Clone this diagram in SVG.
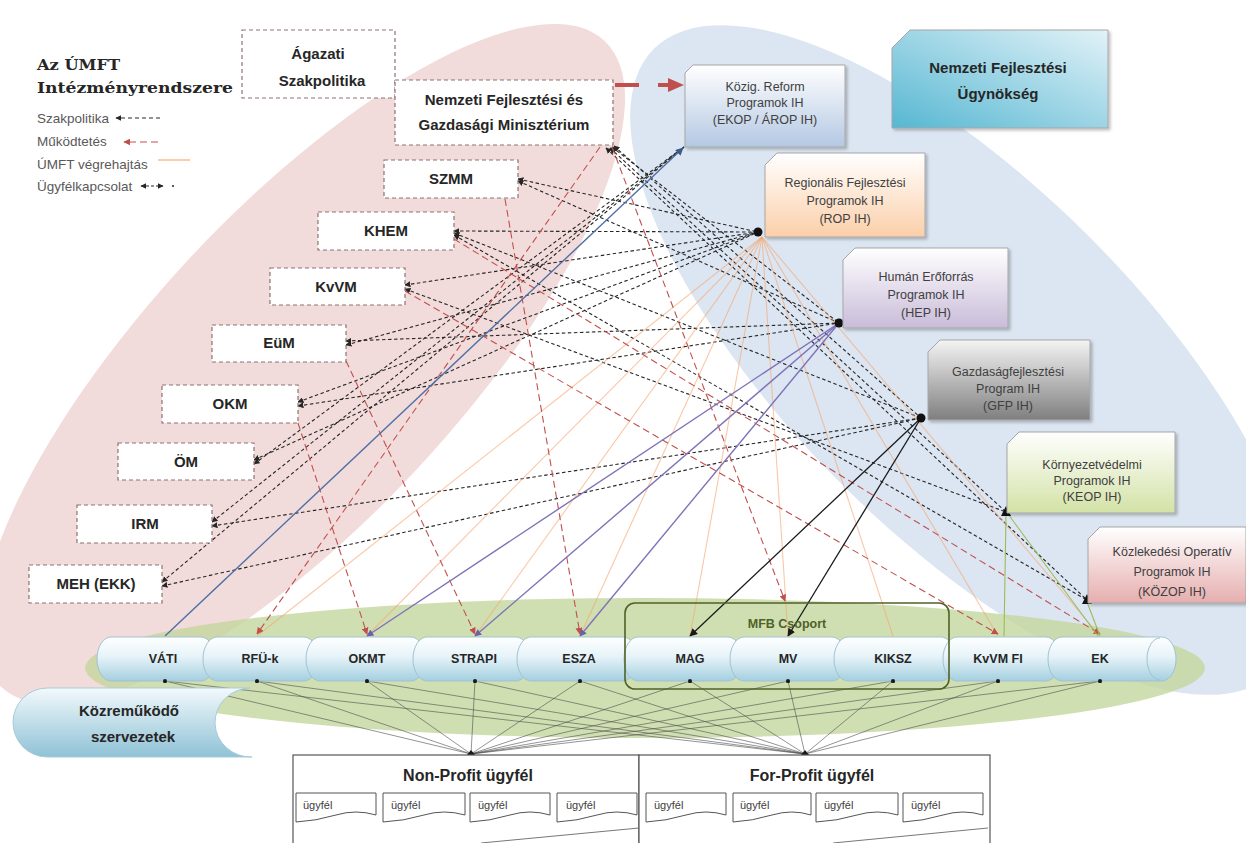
<svg xmlns="http://www.w3.org/2000/svg" width="1246" height="843" viewBox="0 0 1246 843">
<defs>
<style>
.mbox{fill:#fff;stroke:#8e7373;stroke-width:1.2;stroke-dasharray:4 3}
.mt{font-family:"Liberation Sans",Arial,sans-serif;font-weight:bold;font-size:15px;fill:#262626;text-anchor:middle}
.iht{font-family:"Liberation Sans",Arial,sans-serif;font-size:12.5px;fill:#404040;text-anchor:middle}
.ih{stroke:#a6a6a6;stroke-width:1;filter:url(#sh)}
.cap{fill:url(#gCap);stroke:#9fc3d3;stroke-width:1}
.ct{font-family:"Liberation Sans",Arial,sans-serif;font-weight:bold;font-size:12.5px;fill:#262626;text-anchor:middle}
.lg{font-family:"Liberation Sans",Arial,sans-serif;font-size:13.5px;fill:#595959}
.sz{stroke:#262626;stroke-width:1.1;stroke-dasharray:3.5 2.5;fill:none;marker-start:url(#aBk)}
.mk{stroke:#c0504d;stroke-width:1.1;stroke-dasharray:7 4;fill:none;marker-end:url(#aRd)}
.vh{stroke:#f7a46a;stroke-width:1.1;fill:none;opacity:.6}
.hp{stroke:#7f72b8;stroke-width:1.4;fill:none;marker-end:url(#aPu)}
.uk{stroke:#4d4d4d;stroke-width:.8;fill:none;opacity:.75;marker-start:url(#dot)}
.ol{stroke:#9bbb59;stroke-width:1.1;fill:none}
.doc{fill:#fff;stroke:#555;stroke-width:1}
.dt{font-family:"Liberation Sans",Arial,sans-serif;font-size:11px;fill:#404040}
.bt{font-family:"Liberation Sans",Arial,sans-serif;font-weight:bold;font-size:16px;fill:#262626;text-anchor:middle}
</style>
<filter id="sh" x="-10%" y="-10%" width="130%" height="130%"><feDropShadow dx="2" dy="2" stdDeviation="1.5" flood-color="#000" flood-opacity="0.25"/></filter>
<linearGradient id="gCap" x1="0" y1="0" x2="0" y2="1"><stop offset="0" stop-color="#ffffff"/><stop offset="0.45" stop-color="#e6f3f8"/><stop offset="1" stop-color="#a4cfe0"/></linearGradient>
<linearGradient id="gKoz" x1="0" y1="0" x2="0" y2="1"><stop offset="0" stop-color="#f2f9fc"/><stop offset="1" stop-color="#8fc2d6"/></linearGradient>
<linearGradient id="gNfu" x1="0" y1="1" x2="1" y2="0"><stop offset="0" stop-color="#56b7d2"/><stop offset="1" stop-color="#e2f2f8"/></linearGradient>
<linearGradient id="gKig" x1="0" y1="0" x2="0" y2="1"><stop offset="0" stop-color="#ffffff"/><stop offset="1" stop-color="#b4c8e3"/></linearGradient>
<linearGradient id="gRop" x1="0" y1="0" x2="0" y2="1"><stop offset="0" stop-color="#ffffff"/><stop offset="1" stop-color="#fbcfa9"/></linearGradient>
<linearGradient id="gHep" x1="0" y1="0" x2="0" y2="1"><stop offset="0" stop-color="#ffffff"/><stop offset="1" stop-color="#c9bcd9"/></linearGradient>
<linearGradient id="gGfp" x1="0" y1="0" x2="0" y2="1"><stop offset="0" stop-color="#f4f4f4"/><stop offset="1" stop-color="#7f7f7f"/></linearGradient>
<linearGradient id="gKeop" x1="0" y1="0" x2="0" y2="1"><stop offset="0" stop-color="#ffffff"/><stop offset="1" stop-color="#d3e2a6"/></linearGradient>
<linearGradient id="gKozop" x1="0" y1="0" x2="0" y2="1"><stop offset="0" stop-color="#ffffff"/><stop offset="1" stop-color="#e6aeae"/></linearGradient>
<marker id="aBk" viewBox="0 0 10 10" refX="9" refY="5" markerWidth="6" markerHeight="6" markerUnits="userSpaceOnUse" orient="auto-start-reverse"><path d="M0,0 L10,5 L0,10 Z" fill="#262626"/></marker>
<marker id="aRd" viewBox="0 0 10 10" refX="9" refY="5" markerWidth="7" markerHeight="7" markerUnits="userSpaceOnUse" orient="auto-start-reverse"><path d="M0,0 L10,5 L0,10 Z" fill="#c0504d"/></marker>
<marker id="aPu" viewBox="0 0 10 10" refX="9" refY="5" markerWidth="7" markerHeight="7" markerUnits="userSpaceOnUse" orient="auto"><path d="M0,0 L10,5 L0,10 Z" fill="#6a5fa8"/></marker>
<marker id="aBl" viewBox="0 0 10 10" refX="9" refY="5" markerWidth="8" markerHeight="8" markerUnits="userSpaceOnUse" orient="auto"><path d="M0,0 L10,5 L0,10 Z" fill="#3c5a8c"/></marker>
<marker id="aK" viewBox="0 0 10 10" refX="9" refY="5" markerWidth="8" markerHeight="8" markerUnits="userSpaceOnUse" orient="auto-start-reverse"><path d="M0,0 L10,5 L0,10 Z" fill="#1a1a1a"/></marker>
<marker id="dot" viewBox="0 0 10 10" refX="5" refY="5" markerWidth="4" markerHeight="4" markerUnits="userSpaceOnUse"><circle cx="5" cy="5" r="5" fill="#1a1a1a"/></marker>
</defs>

<g id="background">
<rect width="1246" height="843" fill="#ffffff"/>
<ellipse cx="303" cy="364" rx="442" ry="155" transform="rotate(-47 303 364)" fill="#f2dcdb"/>
<ellipse cx="965" cy="360" rx="440" ry="175" transform="rotate(45 965 360)" fill="#dce6f2"/>
<ellipse cx="645" cy="668" rx="560" ry="70" fill="#c3d69b" opacity="0.78"/>
</g>

<g id="legend">
<text x="37" y="70" font-family="DejaVu Serif,'Liberation Serif',serif" font-weight="bold" font-size="15" fill="#262626" textLength="83" lengthAdjust="spacingAndGlyphs">Az ÚMFT</text>
<text x="37" y="93" font-family="DejaVu Serif,'Liberation Serif',serif" font-weight="bold" font-size="15" fill="#262626" textLength="196" lengthAdjust="spacingAndGlyphs">Intézményrendszere</text>
<text class="lg" x="37" y="123">Szakpolitika</text>
<line x1="160" y1="118" x2="116" y2="118" stroke="#262626" stroke-width="1.1" stroke-dasharray="4 3" marker-end="url(#aBk)"/>
<text class="lg" x="37" y="146">Működtetés</text>
<line x1="158" y1="142" x2="124" y2="142" stroke="#c0504d" stroke-width="1.1" stroke-dasharray="7 4" marker-end="url(#aRd)"/>
<text class="lg" x="37" y="169">ÚMFT végrehajtás</text>
<line x1="158" y1="160" x2="190" y2="160" stroke="#f7a46a" stroke-width="1.1"/>
<text class="lg" x="37" y="191">Ügyfélkapcsolat</text>
<line x1="141" y1="186" x2="163" y2="186" stroke="#262626" stroke-width="1" stroke-dasharray="3 2" marker-start="url(#aBk)" marker-end="url(#aBk)"/>
<circle cx="173" cy="186" r="1" fill="#262626"/>
</g>

<g id="connectors">
<!-- Szakpolitika (black dashed) -->
<line class="sz" x1="612" y1="147" x2="839" y2="323"/>
<line class="sz" x1="614" y1="146" x2="921" y2="418"/>
<line class="sz" x1="610" y1="148" x2="1006" y2="512"/>
<line class="sz" x1="606" y1="148" x2="1087" y2="600"/>
<line class="sz" x1="518" y1="179" x2="758" y2="232"/>
<line class="sz" x1="518" y1="181" x2="839" y2="323"/>
<line class="sz" x1="454" y1="231" x2="758" y2="232"/>
<line class="sz" x1="454" y1="235" x2="1087" y2="600"/>
<line class="sz" x1="454" y1="233" x2="921" y2="418"/>
<line class="sz" x1="405" y1="285" x2="758" y2="232"/>
<line class="sz" x1="405" y1="289" x2="1006" y2="512"/>
<line class="sz" x1="346" y1="341" x2="839" y2="323"/>
<line class="sz" x1="346" y1="345" x2="758" y2="232"/>
<line class="sz" x1="298" y1="402" x2="758" y2="232"/>
<line class="sz" x1="298" y1="406" x2="839" y2="323"/>
<line class="sz" x1="254" y1="460" x2="758" y2="232"/>
<line class="sz" x1="254" y1="464" x2="684" y2="147"/>
<line class="sz" x1="212" y1="522" x2="684" y2="147"/>
<line class="sz" x1="212" y1="526" x2="921" y2="418"/>
<line class="sz" x1="162" y1="582" x2="684" y2="147"/>
<line class="sz" x1="162" y1="586" x2="921" y2="418"/>
<!-- ÚMFT végrehajtás (orange) -->
<line class="vh" x1="762" y1="237" x2="257" y2="636"/>
<line class="vh" x1="762" y1="237" x2="367" y2="636"/>
<line class="vh" x1="762" y1="237" x2="475" y2="636"/>
<line class="vh" x1="762" y1="237" x2="580" y2="636"/>
<line class="vh" x1="762" y1="237" x2="690" y2="636"/>
<line class="vh" x1="762" y1="237" x2="788" y2="636"/>
<line class="vh" x1="762" y1="237" x2="893" y2="636"/>
<line class="vh" x1="762" y1="237" x2="998" y2="636"/>
<line class="vh" x1="762" y1="237" x2="1100" y2="636"/>
<!-- Működtetés (red dashed) -->
<line class="mk" x1="600" y1="147" x2="257" y2="634"/>
<line class="mk" x1="612" y1="147" x2="785" y2="601"/>
<line class="mk" x1="505" y1="199" x2="580" y2="634"/>
<line class="mk" x1="346" y1="361" x2="475" y2="634"/>
<line class="mk" x1="298" y1="423" x2="367" y2="634"/>
<line class="mk" x1="405" y1="291" x2="998" y2="634"/>
<line class="mk" x1="454" y1="239" x2="1100" y2="634"/>
<path d="M615,85 H670" stroke="#c0504d" stroke-width="4" stroke-dasharray="24 19" fill="none"/>
<path d="M668,78 L684,85 L668,92 Z" fill="#c0504d"/>
<!-- IH to bodies (solid) -->
<line x1="165" y1="636" x2="683" y2="148" stroke="#4f6fa6" stroke-width="1.4" marker-end="url(#aBl)"/>
<line class="hp" x1="839" y1="323" x2="367" y2="636"/>
<line class="hp" x1="839" y1="323" x2="475" y2="636"/>
<line class="hp" x1="839" y1="323" x2="580" y2="636"/>
<line x1="921" y1="418" x2="690" y2="636" stroke="#1a1a1a" stroke-width="1.3" marker-end="url(#aK)"/>
<line x1="921" y1="418" x2="788" y2="636" stroke="#1a1a1a" stroke-width="1.3" marker-end="url(#aK)"/>
<line class="ol" x1="1006" y1="514" x2="1004" y2="636"/>
<line class="ol" x1="1008" y1="514" x2="1098" y2="636"/>
<line class="ol" x1="1087" y1="602" x2="1100" y2="636"/>
<!-- hubs -->
<circle cx="758" cy="232" r="4.5" fill="#111"/>
<circle cx="839" cy="323" r="4.5" fill="#111"/>
<circle cx="921" cy="418" r="4.5" fill="#111"/>
<path d="M1001,516 L1006,506 L1011,516 Z" fill="#111"/>
<path d="M1082,604 L1087,594 L1092,604 Z" fill="#111"/>
<!-- Ügyfélkapcsolat -->
<line class="uk" x1="165" y1="681" x2="471" y2="754"/>
<line class="uk" x1="257" y1="681" x2="471" y2="754"/>
<line class="uk" x1="367" y1="681" x2="471" y2="754"/>
<line class="uk" x1="475" y1="681" x2="471" y2="754"/>
<line class="uk" x1="580" y1="681" x2="471" y2="754"/>
<line class="uk" x1="690" y1="681" x2="471" y2="754"/>
<line class="uk" x1="788" y1="681" x2="471" y2="754"/>
<line class="uk" x1="893" y1="681" x2="471" y2="754"/>
<line class="uk" x1="998" y1="681" x2="471" y2="754"/>
<line class="uk" x1="1100" y1="681" x2="471" y2="754"/>
<line class="uk" x1="165" y1="681" x2="805" y2="754"/>
<line class="uk" x1="257" y1="681" x2="805" y2="754"/>
<line class="uk" x1="367" y1="681" x2="805" y2="754"/>
<line class="uk" x1="475" y1="681" x2="805" y2="754"/>
<line class="uk" x1="580" y1="681" x2="805" y2="754"/>
<line class="uk" x1="690" y1="681" x2="805" y2="754"/>
<line class="uk" x1="788" y1="681" x2="805" y2="754"/>
<line class="uk" x1="893" y1="681" x2="805" y2="754"/>
<line class="uk" x1="998" y1="681" x2="805" y2="754"/>
<line class="uk" x1="1100" y1="681" x2="805" y2="754"/>
<path d="M466,756 L471,750 L476,756 Z" fill="#1a1a1a"/>
<path d="M800,756 L805,750 L810,756 Z" fill="#1a1a1a"/>
</g>

<g id="agazati"><rect class="mbox" x="242" y="30" width="153" height="68"/>
<text class="mt" x="318" y="59" font-size="17">Ágazati</text><text class="mt" x="322" y="86" font-size="17">Szakpolitika</text></g>
<g id="nfgm"><rect class="mbox" x="395" y="80" width="218" height="65"/>
<text class="mt" x="504" y="105">Nemzeti Fejlesztési és</text><text class="mt" x="504" y="130">Gazdasági Minisztérium</text></g>
<g id="szmm"><rect class="mbox" x="384" y="160" width="134" height="38"/><text class="mt" x="451" y="184">SZMM</text></g>
<g id="khem"><rect class="mbox" x="318" y="212" width="136" height="38"/><text class="mt" x="386" y="236">KHEM</text></g>
<g id="kvvm"><rect class="mbox" x="270" y="268" width="135" height="37"/><text class="mt" x="336" y="292">KvVM</text></g>
<g id="eum"><rect class="mbox" x="212" y="325" width="134" height="37"/><text class="mt" x="279" y="348">EüM</text></g>
<g id="okm"><rect class="mbox" x="162" y="385" width="136" height="38"/><text class="mt" x="230" y="409">OKM</text></g>
<g id="om"><rect class="mbox" x="118" y="443" width="136" height="37"/><text class="mt" x="186" y="467">ÖM</text></g>
<g id="irm"><rect class="mbox" x="77" y="505" width="135" height="38"/><text class="mt" x="145" y="529">IRM</text></g>
<g id="meh"><rect class="mbox" x="29" y="565" width="133" height="38"/><text class="mt" x="96" y="589">MEH (EKK)</text></g>

<g id="nfu"><path class="ih" d="M910,30 H1108 V128 H892 V48 Z" fill="url(#gNfu)"/>
<text class="mt" x="998" y="73" font-size="16">Nemzeti Fejlesztési</text><text class="mt" x="998" y="99" font-size="16">Ügynökség</text></g>
<g id="kozig"><path class="ih" d="M693,65 H845 V147 H685 V73 Z" fill="url(#gKig)"/>
<text class="iht" x="765" y="91">Közig. Reform</text><text class="iht" x="765" y="107">Programok IH</text><text class="iht" x="765" y="124">(EKOP / ÁROP IH)</text></g>
<g id="rop"><path class="ih" d="M777,153 H925 V237 H765 V165 Z" fill="url(#gRop)"/>
<text class="iht" x="845" y="187">Regionális Fejlesztési</text><text class="iht" x="845" y="205">Programok IH</text><text class="iht" x="845" y="223">(ROP IH)</text></g>
<g id="hep"><path class="ih" d="M855,248 H1008 V328 H843 V260 Z" fill="url(#gHep)"/>
<text class="iht" x="926" y="281">Humán Erőforrás</text><text class="iht" x="926" y="299">Programok IH</text><text class="iht" x="926" y="317">(HEP IH)</text></g>
<g id="gfp"><path class="ih" d="M940,340 H1090 V420 H928 V352 Z" fill="url(#gGfp)"/>
<text class="iht" x="1008" y="376">Gazdaságfejlesztési</text><text class="iht" x="1008" y="393">Program IH</text><text class="iht" x="1008" y="410">(GFP IH)</text></g>
<g id="keop"><path class="ih" d="M1019,432 H1175 V513 H1007 V444 Z" fill="url(#gKeop)"/>
<text class="iht" x="1092" y="469">Környezetvédelmi</text><text class="iht" x="1092" y="485">Programok IH</text><text class="iht" x="1092" y="501">(KEOP IH)</text></g>
<g id="kozop"><path class="ih" d="M1100,527 H1246 V603 H1088 V539 Z" fill="url(#gKozop)"/>
<text class="iht" x="1172" y="556">Közlekedési Operatív</text><text class="iht" x="1172" y="576">Programok IH</text><text class="iht" x="1172" y="596">(KÖZOP IH)</text></g>

<g id="kozremukodo"><path d="M250,688 H47 A34 34.5 0 0 0 47,757 H252 A36 34.5 0 0 1 250,688 Z" fill="url(#gKoz)" stroke="#a9cbd9" stroke-width="1"/>
<text class="mt" x="129" y="716" font-size="17">Közreműködő</text><text class="mt" x="133" y="742" font-size="17">szervezetek</text></g>

<g id="vati"><path class="cap" d="M111,637 H201 A14 22 0 0 1 201,681 H111 A14 22 0 0 1 111,637 Z"/><text class="ct" x="163" y="663">VÁTI</text></g>
<g id="rfu"><path class="cap" d="M217,637 H304 A14 22 0 0 1 304,681 H217 A14 22 0 0 1 217,637 Z"/><text class="ct" x="260" y="663">RFÜ-k</text></g>
<g id="okmt"><path class="cap" d="M320,637 H411 A14 22 0 0 1 411,681 H320 A14 22 0 0 1 320,637 Z"/><text class="ct" x="367" y="663">OKMT</text></g>
<g id="strapi"><path class="cap" d="M427,637 H516 A14 22 0 0 1 516,681 H427 A14 22 0 0 1 427,637 Z"/><text class="ct" x="474" y="663">STRAPI</text></g>
<g id="esza"><path class="cap" d="M531,637 H623 A14 22 0 0 1 623,681 H531 A14 22 0 0 1 531,637 Z"/><text class="ct" x="579" y="663">ESZA</text></g>
<g id="mag"><path class="cap" d="M638,637 H728 A14 22 0 0 1 728,681 H638 A14 22 0 0 1 638,637 Z"/><text class="ct" x="690" y="663">MAG</text></g>
<g id="mv"><path class="cap" d="M744,637 H832 A14 22 0 0 1 832,681 H744 A14 22 0 0 1 744,637 Z"/><text class="ct" x="788" y="663">MV</text></g>
<g id="kiksz"><path class="cap" d="M848,637 H941 A14 22 0 0 1 941,681 H848 A14 22 0 0 1 848,637 Z"/><text class="ct" x="893" y="663">KIKSZ</text></g>
<g id="kvvmfi"><path class="cap" d="M957,637 H1046 A14 22 0 0 1 1046,681 H957 A14 22 0 0 1 957,637 Z"/><text class="ct" x="998" y="663">KvVM FI</text></g>
<g id="ek"><path class="cap" d="M1062,637 H1162 A14 22 0 0 1 1162,681 H1062 A14 22 0 0 1 1062,637 Z"/><path d="M1160,638 A13 21 0 0 0 1160,680" fill="none" stroke="#9fc3d3" stroke-width="1"/><text class="ct" x="1100" y="663">EK</text></g>
<g id="body-dots" fill="#1a1a1a">
<circle cx="165" cy="681" r="2"/><circle cx="257" cy="681" r="2"/><circle cx="367" cy="681" r="2"/><circle cx="475" cy="681" r="2"/><circle cx="580" cy="681" r="2"/><circle cx="690" cy="681" r="2"/><circle cx="788" cy="681" r="2"/><circle cx="893" cy="681" r="2"/><circle cx="998" cy="681" r="2"/><circle cx="1100" cy="681" r="2"/>
</g>

<g id="mfb"><rect x="625" y="603" width="324" height="86" rx="10" fill="none" stroke="#4f6228" stroke-width="1.6"/>
<text x="787" y="628" font-family="'Liberation Sans',Arial,sans-serif" font-weight="bold" font-size="12.5" fill="#4f6228" text-anchor="middle">MFB Csoport</text></g>

<g id="nonprofit"><rect x="293" y="755" width="346" height="95" fill="#fff" stroke="#555" stroke-width="1.2"/>
<text class="bt" x="468" y="781">Non-Profit ügyfél</text>
<path class="doc" d="M296,793 H376 V815 Q356,809 336,815 T296,822 Z"/><text class="dt" x="303" y="809">ügyfél</text>
<path class="doc" d="M383,793 H465 V815 Q444,809 424,815 T383,822 Z"/><text class="dt" x="391" y="809">ügyfél</text>
<path class="doc" d="M470,793 H550 V815 Q530,809 510,815 T470,822 Z"/><text class="dt" x="478" y="809">ügyfél</text>
<path class="doc" d="M557,793 H637 V815 Q617,809 597,815 T557,822 Z"/><text class="dt" x="566" y="809">ügyfél</text>
<line x1="481" y1="843" x2="639" y2="828" stroke="#777" stroke-width="1"/></g>
<g id="forprofit"><rect x="639" y="755" width="351" height="95" fill="#fff" stroke="#555" stroke-width="1.2"/>
<text class="bt" x="812" y="781">For-Profit ügyfél</text>
<path class="doc" d="M646,793 H726 V815 Q706,809 686,815 T646,822 Z"/><text class="dt" x="654" y="809">ügyfél</text>
<path class="doc" d="M733,793 H811 V815 Q792,809 772,815 T733,822 Z"/><text class="dt" x="740" y="809">ügyfél</text>
<path class="doc" d="M816,793 H898 V815 Q877,809 857,815 T816,822 Z"/><text class="dt" x="824" y="809">ügyfél</text>
<path class="doc" d="M903,793 H983 V815 Q963,809 943,815 T903,822 Z"/><text class="dt" x="911" y="809">ügyfél</text>
<line x1="833" y1="843" x2="988" y2="828" stroke="#777" stroke-width="1"/></g>
</svg>
